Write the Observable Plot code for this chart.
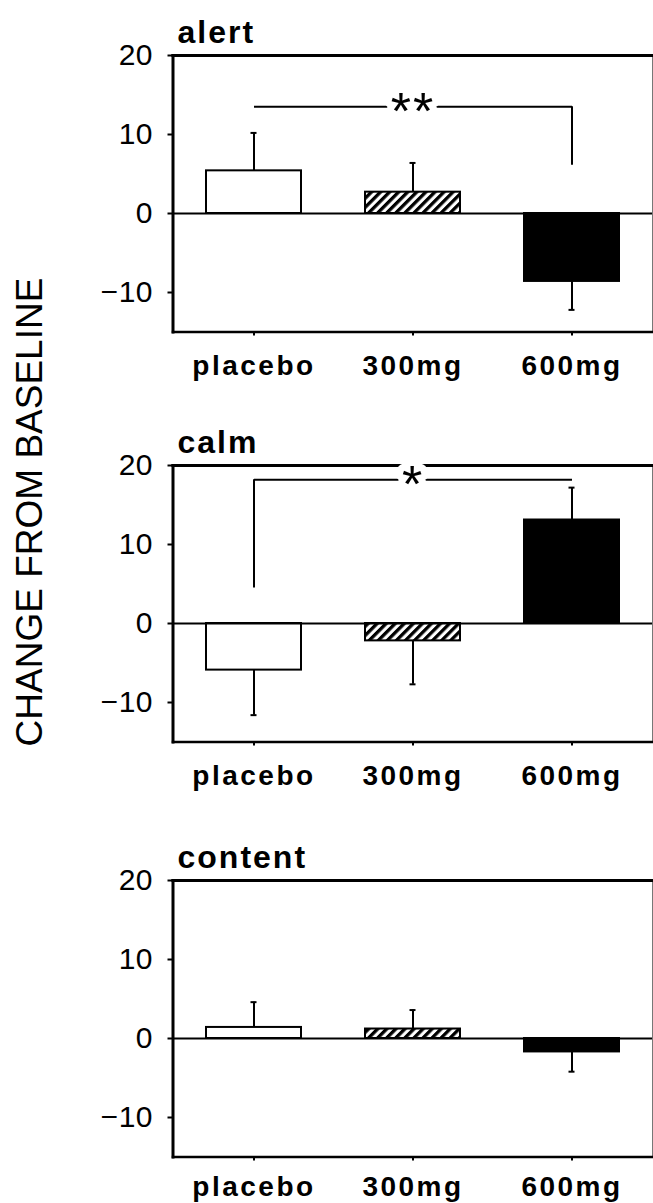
<!DOCTYPE html>
<html><head><meta charset="utf-8">
<script src="https://cdn.jsdelivr.net/npm/d3@7"></script>
<script src="https://cdn.jsdelivr.net/npm/@observablehq/plot@0.6"></script>
<style>
body{margin:0;background:#fff;}
#wrap{position:relative;width:653px;height:1203px;overflow:hidden;background:#fff;}
.panel{position:absolute;left:0;}
#ylab{position:absolute;left:29px;top:512px;transform:translate(-50%,-50%) rotate(-90deg);white-space:nowrap;font-size:37px;font-weight:400;color:#000;font-family:"Liberation Sans",Arial,sans-serif;line-height:1;}
#wrap svg{letter-spacing:2px;}
#wrap g[aria-label="x-axis tick label"]{letter-spacing:2.5px;}
#wrap g[aria-label="y-axis tick label"]{letter-spacing:0.5px;}
</style></head><body>
<div id="wrap">
<svg width="0" height="0" style="position:absolute;left:0;top:0"><defs><pattern id="hatch" patternUnits="userSpaceOnUse" width="6.4" height="6.4" patternTransform="rotate(45)"><rect width="6.4" height="6.4" fill="white"/><line x1="1.6" y1="-1" x2="1.6" y2="8" stroke="black" stroke-width="3.4"/></pattern></defs></svg>
<div id="ylab">CHANGE FROM BASELINE</div>
</div>
<script>
// ---- data ----
const doses = ["placebo", "300mg", "600mg"];
const barFills = ["white", "url(#hatch)", "black"];
const yTicks = [-10, 0, 10, 20];
const panelNames = ["alert", "calm", "content"];

const alertMean = [5.4, 2.7, -8.6];
const alertSem = [4.8, 3.7, 3.6];
const calmMean = [-5.9, -2.2, 13.1];
const calmSem = [5.7, 5.5, 4.1];
const contentMean = [1.4, 1.2, -1.7];
const contentSem = [3.2, 2.4, 2.5];

// significance brackets: [label, bracket height, dose with drop line, drop end]
const alertSig = ["**", 13.5, "600mg", 6.1];
const calmSig = ["*", 18.2, "placebo", 4.5];

const FONT = "Arial, 'Liberation Sans', sans-serif";

function panel(name, means, sems, sig, top, height, marginBottom, labelPad) {
  const data = doses.map((d, i) => ({
    dose: d, mean: means[i],
    end: means[i] + Math.sign(means[i]) * sems[i],
    fill: barFills[i]
  }));
  const marks = [
    Plot.barY(data, {x: "dose", y: "mean", fill: "fill", stroke: "black", strokeWidth: 2}),
    Plot.ruleY([0], {stroke: "black", strokeWidth: 2}),
    Plot.ruleX(data, {x: "dose", y1: "mean", y2: "end", stroke: "black", strokeWidth: 2}),
    Plot.tickY(data, {x: "dose", y: "end", stroke: "black", strokeWidth: 2, insetLeft: 44.5, insetRight: 44.5}),
    Plot.frame({stroke: "#777", strokeWidth: 1}),
    Plot.frame({anchor: "top", stroke: "black", strokeWidth: 3}),
    Plot.frame({anchor: "left", stroke: "black", strokeWidth: 3}),
    Plot.frame({anchor: "bottom", stroke: "black", strokeWidth: 2.5}),
    Plot.axisY({ticks: yTicks, tickSize: 5, tickPadding: 15, fontSize: 30, strokeWidth: 2, label: null}),
    Plot.axisX({tickSize: 4, tickPadding: labelPad, fontSize: 28, fontWeight: "bold", strokeWidth: 2, label: null}),
    Plot.text([name], {frameAnchor: "top-left", text: d => d, dx: 4.5, dy: -13, textAnchor: "start", lineAnchor: "bottom", fontSize: 32, fontWeight: "bold"})
  ];
  if (sig) {
    const [label, yb, dropDose, dropEnd] = sig;
    marks.push(
      Plot.link([{a: doses[0], b: doses[2], y: yb}], {x1: "a", x2: "b", y1: "y", y2: "y", stroke: "black", strokeWidth: 2}),
      Plot.ruleX([{x: dropDose, y1: dropEnd, y2: yb}], {x: "x", y1: "y1", y2: "y2", stroke: "black", strokeWidth: 2}),
      Plot.text([{x: doses[1], y: yb, t: label}], {x: "x", y: "y", text: "t", fontSize: 52, dy: 6, fill: "black", stroke: "white", strokeWidth: 14, paintOrder: "stroke", lineAnchor: "middle"})
    );
  }
  const chart = Plot.plot({
    width: 653, height, marginLeft: 172.5, marginRight: 1, marginTop: 55, marginBottom,
    style: {fontFamily: FONT, background: "transparent", color: "black", overflow: "visible"},
    x: {type: "band", domain: doses, paddingInner: 0.4, paddingOuter: 0.2, label: null},
    y: {domain: [-15, 20], label: null},
    color: {type: "identity"},
    marks
  });
  chart.classList.add("panel");
  chart.style.top = top + "px";
  document.getElementById("wrap").appendChild(chart);
}

panel(panelNames[0], alertMean, alertSem, alertSig, 0, 410, 78.5, 19);
panel(panelNames[1], calmMean, calmSem, calmSig, 410, 415, 83.5, 19);
panel(panelNames[2], contentMean, contentSem, null, 825, 378, 46.5, 15);
</script>
</body></html>
